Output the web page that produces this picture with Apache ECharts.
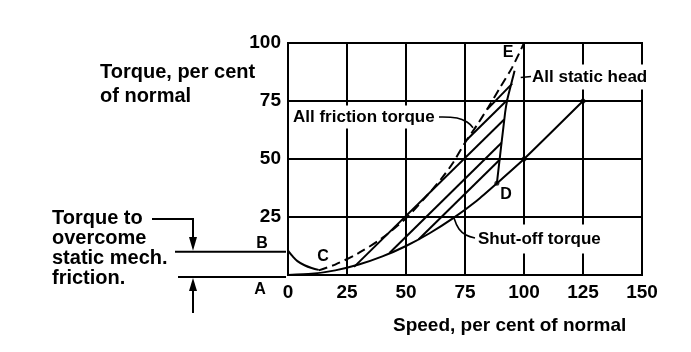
<!DOCTYPE html>
<html><head><meta charset="utf-8">
<script src="https://cdn.jsdelivr.net/npm/echarts@6/dist/echarts.min.js"></script>
<style>html,body{margin:0;padding:0;background:#fff}#c{width:691px;height:352px}</style>
</head><body><div id="c"></div>
<script>
// ---- data ----
var xTicks = [0, 25, 50, 75, 100, 125, 150];
var yTicks = [0, 25, 50, 75, 100];
var shutOffTorque = [[0,0],[10,0.5],[20,2],[30,4.5],[40,8],[50,12.5],[60,18],[70,24.5],[80,32],[88.5,39.5],[100,50],[125,75]];
var allFrictionTorque = [[13,2],[20,4.5],[30,9.5],[40,16],[50,24.5],[60,35.5],[65,41.5],[70,48.5],[75,57],[80,64.5],[85,72.5],[90,81],[95,89.5],[100,100]];
var startingCurve = [[0,10.5],[2,8],[4,6],[7,4.2],[10,3],[13,2.2]];
var allStaticHead = [[88.5,39.5],[92,70],[93,76],[95,84],[96,88]];
var hatch1 = [[84.5,71.5],[95,82.5]];
var hatch2 = [[76,58.5],[92.9,75.4]];
var hatch3 = [[28,3.5],[91.6,67]];
var hatch4 = [[43,9.5],[90.5,57]];
var hatch5 = [[55.3,15.3],[89.7,49.7]];
var markedPoints = [[88.5,39.5],[100,50],[125,75]];
var frictionLevelB = 10;

var FONT = '"Liberation Sans", Arial, Helvetica, sans-serif';
var black = '#000';
var chart = echarts.init(document.getElementById('c'));

function lineSeries(data, dashed, smooth) {
  return {type:'line', data:data, showSymbol:false, smooth:smooth||false, silent:true,
    lineStyle:{color:black, width:2, type: dashed ? [9,5] : 'solid'}, z:3};
}
var hatches = [hatch1, hatch2, hatch3, hatch4, hatch5];
var series = [
  lineSeries(shutOffTorque, false, 0.2),
  lineSeries(allFrictionTorque, true, 0.3),
  lineSeries(startingCurve, false, 0.4),
  lineSeries(allStaticHead, false, 0.2)
];
hatches.forEach(function(h){ series.push(lineSeries(h, false, false)); });
series.push({type:'scatter', data:markedPoints, symbolSize:5, itemStyle:{color:black}, z:4, silent:true});

chart.setOption({
  animation:false,
  grid:{left:288, right:49, top:43, bottom:77, show:true, borderColor:black, borderWidth:2},
  xAxis:{type:'value', min:xTicks[0], max:xTicks[xTicks.length-1], interval:25,
    axisLine:{lineStyle:{color:black, width:2}}, axisTick:{show:false},
    splitLine:{show:true, lineStyle:{color:black, width:2}},
    axisLabel:{color:black, fontSize:19, fontWeight:'bold', fontFamily:FONT, margin:8}},
  yAxis:{type:'value', min:yTicks[0], max:yTicks[yTicks.length-1], interval:25,
    axisLine:{show:true, lineStyle:{color:black, width:2}}, axisTick:{show:false},
    splitLine:{show:true, lineStyle:{color:black, width:2}},
    axisLabel:{color:black, fontSize:19, fontWeight:'bold', fontFamily:FONT, margin:7,
      formatter:function(v){ return v === 0 ? '' : String(v); }}},
  series:series
});

function px(p){ return chart.convertToPixel({gridIndex:0}, p); }
function txt(text, x, y, size, align, bg, pad, lh) {
  return {type:'text', z:50, silent:true, style:{text:text, x:x, y:y, fill:black,
    font:'bold ' + size + 'px ' + FONT, textFont:'bold ' + size + 'px ' + FONT,
    textAlign:align||'left', align:align||'left', textVerticalAlign:'middle', verticalAlign:'middle',
    backgroundColor: bg ? '#fff' : null, padding: pad || 0, lineHeight: lh || size}};
}
function poly(points, w) {
  return {type:'polyline', z:40, silent:true, shape:{points:points, smooth:0.4}, style:{stroke:black, lineWidth:w||1.6, fill:null}};
}
function tri(points) {
  return {type:'polygon', z:40, silent:true, shape:{points:points}, style:{fill:black}};
}

var yB = px([0, frictionLevelB])[1];
var y0 = px([0, 0])[1];
var fr = px([78.4, 63.5]);
var so = px([70.3, 24.7]);
var sh = px([96.5, 85]);
var g = [
  txt('Torque, per cent', 100, 72, 20, 'left'),
  txt('of normal', 100, 96, 20, 'left'),
  txt('Speed, per cent of normal', 393, 326, 19, 'left'),
  txt('All friction torque', 292, 117, 17, 'left', true, [3,1]),
  txt('All static head', 532, 77, 17, 'left', true, [4,0]),
  txt('Shut-off torque', 476, 239, 17, 'left', true, [6,2]),
  txt('E', 508, 53, 16, 'center'),
  txt('D', 506, 195, 16, 'center'),
  txt('C', 323, 257, 16, 'center'),
  txt('B', 262, 244, 16, 'center'),
  txt('A', 260, 290, 16, 'center'),
  txt('Torque to\novercome\nstatic mech.\nfriction.', 52, 248.5, 20, 'left', false, 0, 19.7),
  poly([[439,117],[457,118],[467,122],[fr[0],fr[1]]]),
  poly([[475,238],[466,235],[459,229],[so[0],so[1]]]),
  {type:'line', z:40, silent:true, shape:{x1:sh[0]+5, y1:77.5, x2:531, y2:76.5}, style:{stroke:black, lineWidth:1.6}},
  {type:'line', z:40, silent:true, shape:{x1:175, y1:yB, x2:286, y2:yB}, style:{stroke:black, lineWidth:2}},
  {type:'line', z:40, silent:true, shape:{x1:178, y1:y0+2, x2:286, y2:y0+2}, style:{stroke:black, lineWidth:2}},
  {type:'polyline', z:40, silent:true, shape:{points:[[152,219],[193,219],[193,240]]}, style:{stroke:black, lineWidth:2, fill:null}},
  tri([[189,237],[197,237],[193,yB-1]]),
  {type:'line', z:40, silent:true, shape:{x1:193, y1:288, x2:193, y2:313}, style:{stroke:black, lineWidth:2}},
  tri([[189,291],[197,291],[193,y0+3]])
];
chart.setOption({graphic:g});
</script></body></html>
